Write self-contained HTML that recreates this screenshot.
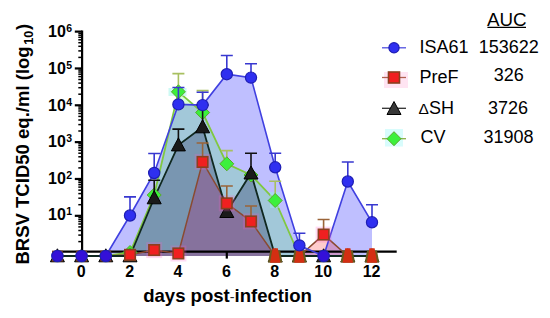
<!DOCTYPE html>
<html><head><meta charset="utf-8"><style>
html,body{margin:0;padding:0;background:#fff;width:550px;height:318px;overflow:hidden}
svg{display:block}
text{font-family:"Liberation Sans",sans-serif;fill:#000}
.tl{font-weight:bold;font-size:16px}
.sup{font-weight:bold;font-size:10.5px}
.lg{font-size:18px}
.ax{font-weight:bold;font-size:18px}
</style></head><body>
<svg width="550" height="318" viewBox="0 0 550 318">
<rect width="550" height="318" fill="#fff"/>
<polygon points="57.4,256.0 57.4,256.0 81.6,256.0 105.8,256.0 130.0,215.5 154.2,173.0 178.4,104.4 202.6,105.1 226.8,74.2 251.0,77.6 275.2,167.3 299.4,245.4 323.6,256.0 347.8,181.5 372.0,222.3 372.0,256.0" fill="#0000ff" fill-opacity="0.25"/>
<polygon points="57.4,256.0 57.4,256.0 81.6,256.0 105.8,256.0 130.0,252.5 154.2,195.0 178.4,91.8 202.6,112.5 226.8,163.8 251.0,175.0 275.2,200.5 299.4,256.0 323.6,256.0 347.8,256.0 372.0,256.0 372.0,256.0" fill="#00ff00" fill-opacity="0.15"/>
<polygon points="57.4,256.0 57.4,256.0 81.6,256.0 105.8,256.0 130.0,256.0 154.2,198.0 178.4,145.1 202.6,127.0 226.8,211.7 251.0,173.2 275.2,256.0 299.4,256.0 323.6,256.0 347.8,256.0 372.0,256.0 372.0,256.0" fill="rgb(0,0,60)" fill-opacity="0.25"/>
<polygon points="57.4,256.0 57.4,256.0 81.6,256.0 105.8,256.0 130.0,254.8 154.2,250.1 178.4,253.5 202.6,161.9 226.8,203.3 251.0,221.4 275.2,256.0 275.2,256.0" fill="rgb(174,7,98)" fill-opacity="0.25"/>
<polygon points="275.2,256.0 275.2,256.0 299.4,256.0 323.6,234.6 347.8,256.0 372.0,256.0 372.0,256.0" fill="#ff0000" fill-opacity="0.2"/>
<line x1="82.1" y1="30.5" x2="82.1" y2="252.6" stroke="#000" stroke-width="2.2"/>
<line x1="74.8" y1="31.61" x2="82.1" y2="31.61" stroke="#000" stroke-width="2.2"/>
<line x1="78.3" y1="57.4" x2="82.1" y2="57.4" stroke="#000" stroke-width="1.5"/>
<line x1="78.3" y1="50.9" x2="82.1" y2="50.9" stroke="#000" stroke-width="1.5"/>
<line x1="78.3" y1="46.3" x2="82.1" y2="46.3" stroke="#000" stroke-width="1.5"/>
<line x1="78.3" y1="42.7" x2="82.1" y2="42.7" stroke="#000" stroke-width="1.5"/>
<line x1="78.3" y1="39.8" x2="82.1" y2="39.8" stroke="#000" stroke-width="1.5"/>
<line x1="78.3" y1="37.3" x2="82.1" y2="37.3" stroke="#000" stroke-width="1.5"/>
<line x1="78.3" y1="35.2" x2="82.1" y2="35.2" stroke="#000" stroke-width="1.5"/>
<line x1="78.3" y1="33.3" x2="82.1" y2="33.3" stroke="#000" stroke-width="1.5"/>
<line x1="74.8" y1="68.45" x2="82.1" y2="68.45" stroke="#000" stroke-width="2.2"/>
<line x1="78.3" y1="94.2" x2="82.1" y2="94.2" stroke="#000" stroke-width="1.5"/>
<line x1="78.3" y1="87.7" x2="82.1" y2="87.7" stroke="#000" stroke-width="1.5"/>
<line x1="78.3" y1="83.1" x2="82.1" y2="83.1" stroke="#000" stroke-width="1.5"/>
<line x1="78.3" y1="79.5" x2="82.1" y2="79.5" stroke="#000" stroke-width="1.5"/>
<line x1="78.3" y1="76.6" x2="82.1" y2="76.6" stroke="#000" stroke-width="1.5"/>
<line x1="78.3" y1="74.2" x2="82.1" y2="74.2" stroke="#000" stroke-width="1.5"/>
<line x1="78.3" y1="72.0" x2="82.1" y2="72.0" stroke="#000" stroke-width="1.5"/>
<line x1="78.3" y1="70.1" x2="82.1" y2="70.1" stroke="#000" stroke-width="1.5"/>
<line x1="74.8" y1="105.29" x2="82.1" y2="105.29" stroke="#000" stroke-width="2.2"/>
<line x1="78.3" y1="131.0" x2="82.1" y2="131.0" stroke="#000" stroke-width="1.5"/>
<line x1="78.3" y1="124.6" x2="82.1" y2="124.6" stroke="#000" stroke-width="1.5"/>
<line x1="78.3" y1="120.0" x2="82.1" y2="120.0" stroke="#000" stroke-width="1.5"/>
<line x1="78.3" y1="116.4" x2="82.1" y2="116.4" stroke="#000" stroke-width="1.5"/>
<line x1="78.3" y1="113.5" x2="82.1" y2="113.5" stroke="#000" stroke-width="1.5"/>
<line x1="78.3" y1="111.0" x2="82.1" y2="111.0" stroke="#000" stroke-width="1.5"/>
<line x1="78.3" y1="108.9" x2="82.1" y2="108.9" stroke="#000" stroke-width="1.5"/>
<line x1="78.3" y1="107.0" x2="82.1" y2="107.0" stroke="#000" stroke-width="1.5"/>
<line x1="74.8" y1="142.13" x2="82.1" y2="142.13" stroke="#000" stroke-width="2.2"/>
<line x1="78.3" y1="167.9" x2="82.1" y2="167.9" stroke="#000" stroke-width="1.5"/>
<line x1="78.3" y1="161.4" x2="82.1" y2="161.4" stroke="#000" stroke-width="1.5"/>
<line x1="78.3" y1="156.8" x2="82.1" y2="156.8" stroke="#000" stroke-width="1.5"/>
<line x1="78.3" y1="153.2" x2="82.1" y2="153.2" stroke="#000" stroke-width="1.5"/>
<line x1="78.3" y1="150.3" x2="82.1" y2="150.3" stroke="#000" stroke-width="1.5"/>
<line x1="78.3" y1="147.8" x2="82.1" y2="147.8" stroke="#000" stroke-width="1.5"/>
<line x1="78.3" y1="145.7" x2="82.1" y2="145.7" stroke="#000" stroke-width="1.5"/>
<line x1="78.3" y1="143.8" x2="82.1" y2="143.8" stroke="#000" stroke-width="1.5"/>
<line x1="74.8" y1="178.97" x2="82.1" y2="178.97" stroke="#000" stroke-width="2.2"/>
<line x1="78.3" y1="204.7" x2="82.1" y2="204.7" stroke="#000" stroke-width="1.5"/>
<line x1="78.3" y1="198.2" x2="82.1" y2="198.2" stroke="#000" stroke-width="1.5"/>
<line x1="78.3" y1="193.6" x2="82.1" y2="193.6" stroke="#000" stroke-width="1.5"/>
<line x1="78.3" y1="190.1" x2="82.1" y2="190.1" stroke="#000" stroke-width="1.5"/>
<line x1="78.3" y1="187.1" x2="82.1" y2="187.1" stroke="#000" stroke-width="1.5"/>
<line x1="78.3" y1="184.7" x2="82.1" y2="184.7" stroke="#000" stroke-width="1.5"/>
<line x1="78.3" y1="182.5" x2="82.1" y2="182.5" stroke="#000" stroke-width="1.5"/>
<line x1="78.3" y1="180.7" x2="82.1" y2="180.7" stroke="#000" stroke-width="1.5"/>
<line x1="74.8" y1="215.81" x2="82.1" y2="215.81" stroke="#000" stroke-width="2.2"/>
<line x1="78.3" y1="241.6" x2="82.1" y2="241.6" stroke="#000" stroke-width="1.5"/>
<line x1="78.3" y1="235.1" x2="82.1" y2="235.1" stroke="#000" stroke-width="1.5"/>
<line x1="78.3" y1="230.5" x2="82.1" y2="230.5" stroke="#000" stroke-width="1.5"/>
<line x1="78.3" y1="226.9" x2="82.1" y2="226.9" stroke="#000" stroke-width="1.5"/>
<line x1="78.3" y1="224.0" x2="82.1" y2="224.0" stroke="#000" stroke-width="1.5"/>
<line x1="78.3" y1="221.5" x2="82.1" y2="221.5" stroke="#000" stroke-width="1.5"/>
<line x1="78.3" y1="219.4" x2="82.1" y2="219.4" stroke="#000" stroke-width="1.5"/>
<line x1="78.3" y1="217.5" x2="82.1" y2="217.5" stroke="#000" stroke-width="1.5"/>
<line x1="57.4" y1="251.7" x2="396.7" y2="251.7" stroke="#000" stroke-width="2.3"/>
<text x="81.2" y="277" text-anchor="middle" class="tl">0</text>
<text x="129.6" y="277" text-anchor="middle" class="tl">2</text>
<line x1="130.0" y1="251.6" x2="130.0" y2="258.6" stroke="#000" stroke-width="2.2"/>
<text x="178.0" y="277" text-anchor="middle" class="tl">4</text>
<line x1="178.4" y1="251.6" x2="178.4" y2="258.6" stroke="#000" stroke-width="2.2"/>
<text x="226.4" y="277" text-anchor="middle" class="tl">6</text>
<line x1="226.8" y1="251.6" x2="226.8" y2="258.6" stroke="#000" stroke-width="2.2"/>
<text x="274.8" y="277" text-anchor="middle" class="tl">8</text>
<line x1="275.2" y1="251.6" x2="275.2" y2="258.6" stroke="#000" stroke-width="2.2"/>
<text x="323.2" y="277" text-anchor="middle" class="tl">10</text>
<line x1="323.6" y1="251.6" x2="323.6" y2="258.6" stroke="#000" stroke-width="2.2"/>
<text x="371.6" y="277" text-anchor="middle" class="tl">12</text>
<line x1="372.0" y1="251.6" x2="372.0" y2="258.6" stroke="#000" stroke-width="2.2"/>
<polyline points="57.4,256.0 81.6,256.0 105.8,256.0 130.0,252.5 154.2,195.0 178.4,91.8 202.6,112.5 226.8,163.8 251.0,175.0 275.2,200.5 299.4,256.0 323.6,256.0 347.8,256.0 372.0,256.0" fill="none" stroke="#80c840" stroke-width="1.8"/>
<polyline points="57.4,256.0 81.6,256.0 105.8,256.0 130.0,254.8 154.2,250.1 178.4,253.5 202.6,161.9 226.8,203.3 251.0,221.4 275.2,256.0 299.4,256.0 323.6,234.6 347.8,256.0 372.0,256.0" fill="none" stroke="#8a4a30" stroke-width="1.5"/>
<polyline points="57.4,256.0 81.6,256.0 105.8,256.0 130.0,215.5 154.2,173.0 178.4,104.4 202.6,105.1 226.8,74.2 251.0,77.6 275.2,167.3 299.4,245.4 323.6,256.0 347.8,181.5 372.0,222.3" fill="none" stroke="#4040e0" stroke-width="1.6"/>
<polyline points="57.4,256.0 81.6,256.0 105.8,256.0 130.0,256.0 154.2,198.0 178.4,145.1 202.6,127.0 226.8,211.7 251.0,173.2 275.2,256.0 299.4,256.0 323.6,256.0 347.8,256.0 372.0,256.0" fill="none" stroke="#102820" stroke-width="1.8"/>
<rect x="168.5" y="88" width="18" height="8" fill="#b8f8f0" fill-opacity="0.7"/>
<rect x="270" y="192" width="10" height="16" fill="#a0ecec" fill-opacity="0.5"/>
<path d="M178.4 91.8V73.6M172.4 73.6H184.4" stroke="#a8c060" stroke-width="1.6" fill="none"/>
<path d="M202.6 112.5V90.6M196.6 90.6H208.6" stroke="#a8c060" stroke-width="1.6" fill="none"/>
<path d="M226.8 163.8V150.6M220.8 150.6H232.8" stroke="#a8c060" stroke-width="1.6" fill="none"/>
<path d="M275.2 200.5V181.2M269.2 181.2H281.2" stroke="#a8c060" stroke-width="1.6" fill="none"/>
<polygon points="130.0,245.5 137.0,252.5 130.0,259.5 123.0,252.5" fill="#3cf03c" stroke="#5aa82a" stroke-width="1"/>
<polygon points="154.2,188.0 161.2,195.0 154.2,202.0 147.2,195.0" fill="#3cf03c" stroke="#5aa82a" stroke-width="1"/>
<polygon points="178.4,84.8 185.4,91.8 178.4,98.8 171.4,91.8" fill="#3cf03c" stroke="#5aa82a" stroke-width="1"/>
<polygon points="202.6,105.5 209.6,112.5 202.6,119.5 195.6,112.5" fill="#3cf03c" stroke="#5aa82a" stroke-width="1"/>
<polygon points="226.8,156.8 233.8,163.8 226.8,170.8 219.8,163.8" fill="#3cf03c" stroke="#5aa82a" stroke-width="1"/>
<polygon points="251.0,168.0 258.0,175.0 251.0,182.0 244.0,175.0" fill="#3cf03c" stroke="#5aa82a" stroke-width="1"/>
<polygon points="275.2,193.5 282.2,200.5 275.2,207.5 268.2,200.5" fill="#3cf03c" stroke="#5aa82a" stroke-width="1"/>
<path d="M154.2 198.0V180.2M148.2 180.2H160.2" stroke="#111" stroke-width="1.6" fill="none"/>
<path d="M178.4 145.1V129.1M172.4 129.1H184.4" stroke="#111" stroke-width="1.6" fill="none"/>
<path d="M202.6 127.0V105.0M196.6 105.0H208.6" stroke="#111" stroke-width="1.6" fill="none"/>
<path d="M251.0 173.2V153.2M245.0 153.2H257.0" stroke="#111" stroke-width="1.6" fill="none"/>
<polygon points="57.4,248.8 50.4,261.8 64.4,261.8" fill="#3a2a12" stroke="#000" stroke-width="1"/>
<polygon points="81.6,248.8 74.6,261.8 88.6,261.8" fill="#3a2a12" stroke="#000" stroke-width="1"/>
<polygon points="105.8,248.8 98.8,261.8 112.8,261.8" fill="#3a2a12" stroke="#000" stroke-width="1"/>
<polygon points="130.0,248.8 123.0,261.8 137.0,261.8" fill="#3a2a12" stroke="#000" stroke-width="1"/>
<polygon points="154.2,190.8 147.2,203.8 161.2,203.8" fill="#1a1a1a" stroke="#000" stroke-width="1"/>
<polygon points="178.4,137.9 171.4,150.9 185.4,150.9" fill="#1a1a1a" stroke="#000" stroke-width="1"/>
<polygon points="202.6,119.8 195.6,132.8 209.6,132.8" fill="#1a1a1a" stroke="#000" stroke-width="1"/>
<polygon points="226.8,204.5 219.8,217.5 233.8,217.5" fill="#1a1a1a" stroke="#000" stroke-width="1"/>
<polygon points="251.0,166.0 244.0,179.0 258.0,179.0" fill="#1a1a1a" stroke="#000" stroke-width="1"/>
<polygon points="275.2,248.8 268.2,261.8 282.2,261.8" fill="#3a2a12" stroke="#000" stroke-width="1"/>
<polygon points="299.4,248.8 292.4,261.8 306.4,261.8" fill="#3a2a12" stroke="#000" stroke-width="1"/>
<polygon points="323.6,248.8 316.6,261.8 330.6,261.8" fill="#3a2a12" stroke="#000" stroke-width="1"/>
<polygon points="347.8,248.8 340.8,261.8 354.8,261.8" fill="#3a2a12" stroke="#000" stroke-width="1"/>
<polygon points="372.0,248.8 365.0,261.8 379.0,261.8" fill="#3a2a12" stroke="#000" stroke-width="1"/>
<rect x="146.2" y="242.1" width="16" height="16" fill="rgb(255,90,200)" fill-opacity="0.22"/>
<rect x="170.4" y="245.5" width="16" height="16" fill="rgb(255,90,200)" fill-opacity="0.22"/>
<rect x="194.6" y="153.9" width="16" height="16" fill="rgb(255,90,200)" fill-opacity="0.22"/>
<rect x="218.8" y="195.3" width="16" height="16" fill="rgb(255,90,200)" fill-opacity="0.22"/>
<rect x="243.0" y="213.4" width="16" height="16" fill="rgb(255,90,200)" fill-opacity="0.22"/>
<rect x="315.6" y="226.6" width="16" height="16" fill="rgb(255,90,200)" fill-opacity="0.22"/>
<path d="M202.6 161.9V143.0M196.6 143.0H208.6" stroke="#9a6438" stroke-width="1.6" fill="none"/>
<path d="M226.8 203.3V186.0M220.8 186.0H232.8" stroke="#9a6438" stroke-width="1.6" fill="none"/>
<path d="M251.0 221.4V206.0M245.0 206.0H257.0" stroke="#9a6438" stroke-width="1.6" fill="none"/>
<path d="M323.6 234.6V219.5M317.6 219.5H329.6" stroke="#9a6438" stroke-width="1.6" fill="none"/>
<rect x="52.8" y="251.4" width="9.2" height="9.2" fill="#f02020" stroke="#8a4020" stroke-width="1.6"/>
<rect x="77.0" y="251.4" width="9.2" height="9.2" fill="#f02020" stroke="#8a4020" stroke-width="1.6"/>
<rect x="101.2" y="251.4" width="9.2" height="9.2" fill="#f02020" stroke="#8a4020" stroke-width="1.6"/>
<rect x="124.8" y="249.6" width="10.5" height="10.5" fill="#f02020" stroke="#8a4020" stroke-width="1.6"/>
<rect x="148.9" y="244.8" width="10.5" height="10.5" fill="#f02020" stroke="#8a4020" stroke-width="1.6"/>
<rect x="173.1" y="248.2" width="10.5" height="10.5" fill="#f02020" stroke="#8a4020" stroke-width="1.6"/>
<rect x="197.3" y="156.7" width="10.5" height="10.5" fill="#f02020" stroke="#8a4020" stroke-width="1.6"/>
<rect x="221.5" y="198.1" width="10.5" height="10.5" fill="#f02020" stroke="#8a4020" stroke-width="1.6"/>
<rect x="245.8" y="216.2" width="10.5" height="10.5" fill="#f02020" stroke="#8a4020" stroke-width="1.6"/>
<polygon points="270.2,250.5 280.2,250.5 282.4,262.4 268.0,262.4" fill="#6a5a1e"/><polygon points="272.6,248.3 277.8,248.3 280.4,262.7 270.0,262.7" fill="#d42e12"/>
<polygon points="294.4,250.5 304.4,250.5 306.6,262.4 292.2,262.4" fill="#6a5a1e"/><polygon points="296.8,248.3 302.0,248.3 304.6,262.7 294.2,262.7" fill="#d42e12"/>
<rect x="318.4" y="229.3" width="10.5" height="10.5" fill="#f02020" stroke="#8a4020" stroke-width="1.6"/>
<polygon points="342.8,250.5 352.8,250.5 355.0,262.4 340.6,262.4" fill="#6a5a1e"/><polygon points="345.2,248.3 350.4,248.3 353.0,262.7 342.6,262.7" fill="#d42e12"/>
<polygon points="367.0,250.5 377.0,250.5 379.2,262.4 364.8,262.4" fill="#6a5a1e"/><polygon points="369.4,248.3 374.6,248.3 377.2,262.7 366.8,262.7" fill="#d42e12"/>
<path d="M130.0 215.5V196.9M124.0 196.9H136.0" stroke="#3838d0" stroke-width="1.6" fill="none"/>
<path d="M154.2 173.0V153.5M148.2 153.5H160.2" stroke="#3838d0" stroke-width="1.6" fill="none"/>
<path d="M178.4 104.4V87.5M172.4 87.5H184.4" stroke="#3838d0" stroke-width="1.6" fill="none"/>
<path d="M202.6 105.1V92.3M196.6 92.3H208.6" stroke="#3838d0" stroke-width="1.6" fill="none"/>
<path d="M226.8 74.2V55.5M220.8 55.5H232.8" stroke="#3838d0" stroke-width="1.6" fill="none"/>
<path d="M251.0 77.6V63.8M245.0 63.8H257.0" stroke="#3838d0" stroke-width="1.6" fill="none"/>
<path d="M275.2 167.3V153.2M269.2 153.2H281.2" stroke="#3838d0" stroke-width="1.6" fill="none"/>
<path d="M299.4 245.4V233.3M293.4 233.3H305.4" stroke="#3838d0" stroke-width="1.6" fill="none"/>
<path d="M347.8 181.5V162.0M341.8 162.0H353.8" stroke="#3838d0" stroke-width="1.6" fill="none"/>
<path d="M372.0 222.3V204.8M366.0 204.8H378.0" stroke="#3838d0" stroke-width="1.6" fill="none"/>
<circle cx="57.4" cy="256.0" r="5.7" fill="#3410d8" stroke="#1e1eb4" stroke-width="1.2"/>
<circle cx="81.6" cy="256.0" r="5.7" fill="#3410d8" stroke="#1e1eb4" stroke-width="1.2"/>
<circle cx="105.8" cy="256.0" r="5.7" fill="#3410d8" stroke="#1e1eb4" stroke-width="1.2"/>
<circle cx="130.0" cy="215.5" r="5.6" fill="#2f2ff0" stroke="#1e1eb4" stroke-width="1.2"/>
<circle cx="154.2" cy="173.0" r="5.6" fill="#2f2ff0" stroke="#1e1eb4" stroke-width="1.2"/>
<circle cx="178.4" cy="104.4" r="5.6" fill="#2f2ff0" stroke="#1e1eb4" stroke-width="1.2"/>
<circle cx="202.6" cy="105.1" r="5.6" fill="#2f2ff0" stroke="#1e1eb4" stroke-width="1.2"/>
<circle cx="226.8" cy="74.2" r="5.6" fill="#2f2ff0" stroke="#1e1eb4" stroke-width="1.2"/>
<circle cx="251.0" cy="77.6" r="5.6" fill="#2f2ff0" stroke="#1e1eb4" stroke-width="1.2"/>
<circle cx="275.2" cy="167.3" r="5.6" fill="#2f2ff0" stroke="#1e1eb4" stroke-width="1.2"/>
<circle cx="299.4" cy="245.4" r="5.6" fill="#2f2ff0" stroke="#1e1eb4" stroke-width="1.2"/>
<circle cx="323.6" cy="256.0" r="5.7" fill="#3410d8" stroke="#1e1eb4" stroke-width="1.2"/>
<circle cx="347.8" cy="181.5" r="5.6" fill="#2f2ff0" stroke="#1e1eb4" stroke-width="1.2"/>
<circle cx="372.0" cy="222.3" r="5.6" fill="#2f2ff0" stroke="#1e1eb4" stroke-width="1.2"/>
<text x="65.8" y="37.2" text-anchor="end" class="tl">10</text><text x="66.2" y="32.2" class="sup">6</text>
<text x="65.8" y="73.8" text-anchor="end" class="tl">10</text><text x="66.2" y="68.8" class="sup">5</text>
<text x="65.8" y="110.5" text-anchor="end" class="tl">10</text><text x="66.2" y="105.5" class="sup">4</text>
<text x="65.8" y="147.1" text-anchor="end" class="tl">10</text><text x="66.2" y="142.1" class="sup">3</text>
<text x="65.8" y="183.8" text-anchor="end" class="tl">10</text><text x="66.2" y="178.8" class="sup">2</text>
<text x="65.8" y="220.4" text-anchor="end" class="tl">10</text><text x="66.2" y="215.4" class="sup">1</text>
<text transform="translate(29.3,264.6) rotate(-90)" class="ax" style="font-size:18.55px">BRSV TCID50 eq./ml (log<tspan font-size="12.6" dx="1.6" dy="3.8">10</tspan><tspan dx="0.7" dy="-3.8">)</tspan></text>
<text transform="translate(143.2,301.5) scale(1.031,1)" class="ax">days post<tspan style="font-weight:normal;font-size:14px;fill:#333">-</tspan>infection</text>
<text transform="translate(486.9,25.5) scale(1.045,1)" class="lg">AUC</text>
<line x1="487.4" y1="27.3" x2="526" y2="27.3" stroke="#000" stroke-width="1.2"/>
<line x1="382" y1="47.8" x2="406" y2="47.8" stroke="#5050e0" stroke-width="1.3"/><circle cx="394.0" cy="47.8" r="5.1" fill="#2f2ff0" stroke="#1e1eb4" stroke-width="1.2"/>
<text x="419.6" y="52.8" class="lg">ISA61</text><text x="478.7" y="52.8" class="lg">153622</text>
<rect x="384" y="72" width="24" height="16" fill="#ffe4f2"/>
<line x1="382" y1="77.5" x2="406" y2="77.5" stroke="#b06050" stroke-width="1.3"/><rect x="388.5" y="72.0" width="11" height="11" fill="#f02020" stroke="#8a4020" stroke-width="1.6"/>
<text x="419.6" y="82.7" class="lg">PreF</text><text x="493.8" y="81.3" class="lg">326</text>
<line x1="382" y1="108.3" x2="406" y2="108.3" stroke="#303030" stroke-width="1.3"/><polygon points="394.0,101.5 387.0,114.5 401.0,114.5" fill="#383838" stroke="#000" stroke-width="1"/>
<text x="418.6" y="113.5" class="lg"><tspan style="font-size:15.5px">Δ</tspan>SH</text><text x="488" y="113.5" class="lg">3726</text>
<rect x="385" y="129" width="18" height="17.5" fill="#d8fcfc"/>
<line x1="382" y1="138.7" x2="406" y2="138.7" stroke="#8ab048" stroke-width="1.3"/><polygon points="394.0,131.7 401.0,138.7 394.0,145.7 387.0,138.7" fill="#3cf03c" stroke="#5aa82a" stroke-width="1"/>
<text x="420.4" y="143.3" class="lg">CV</text><text x="483.5" y="143.3" class="lg">31908</text>
</svg>
</body></html>
